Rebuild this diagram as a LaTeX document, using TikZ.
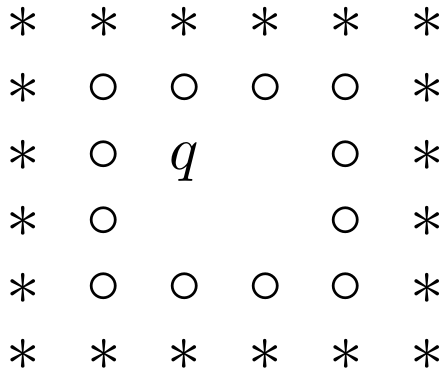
\documentclass[tikz,border=0pt]{standalone}
\usepackage{amsmath,amssymb}
\usepackage{tikz}
\usetikzlibrary{positioning}

\tikzset{
  star mark/.style={inner sep=0pt, scale=6.7},
  ring mark/.style={inner sep=0pt, scale=6.9},
  letter mark/.style={inner sep=0pt, scale=6.1, anchor=base},
}

\begin{document}
\begin{tikzpicture}[x=1pt, y=-1pt]
    \useasboundingbox (0,0) rectangle (441,367);

    % Outer ring (asterisks)
    \foreach \c in {0,...,5} {
        \node (star-\c-0) [star mark] at (23+80.8*\c, 23) {$\ast$};
        \node (star-\c-5) [star mark] at (23+80.8*\c, 355) {$\ast$};
    }
    \foreach \r in {1,...,4} {
        \node (star-0-\r) [star mark] at (23, 23+66.4*\r) {$\ast$};
        \node (star-5-\r) [star mark] at (427, 23+66.4*\r) {$\ast$};
    }

    % Inner ring (circles)
    \foreach \c in {1,...,4} {
        \node (ring-\c-1) [ring mark] at (23+80.8*\c, 89.4) {$\circ$};
        \node (ring-\c-4) [ring mark] at (23+80.8*\c, 288.6) {$\circ$};
    }
    \foreach \r in {2,3} {
        \node (ring-1-\r) [ring mark] at (103.8, 23+66.4*\r) {$\circ$};
        \node (ring-4-\r) [ring mark] at (346.2, 23+66.4*\r) {$\circ$};
    }

    % Marked point
    \node (q) [letter mark] at (184.6, 169.5) {$q$};
\end{tikzpicture}
\end{document}
